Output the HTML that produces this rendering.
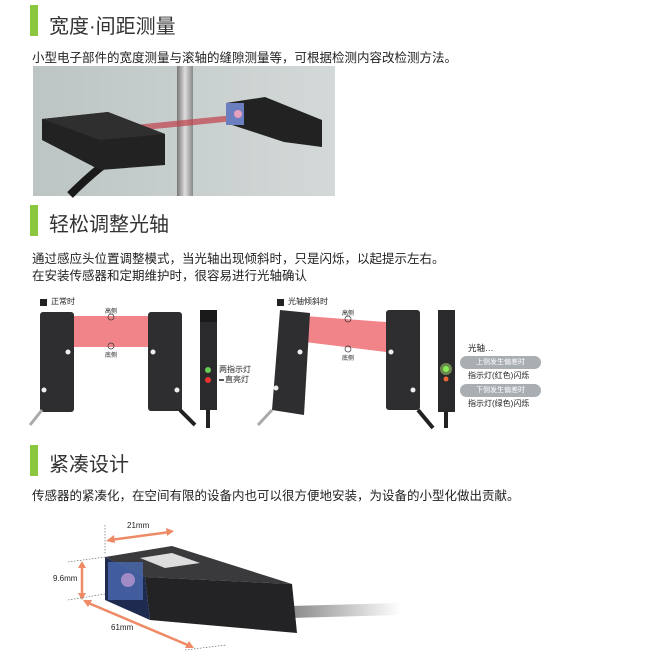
<!DOCTYPE html>
<html><head><meta charset="utf-8"><style>
body{margin:0;width:646px;height:663px;background:#fff;position:relative;overflow:hidden;font-family:"Liberation Sans","Noto Sans CJK SC",sans-serif;color:#222}
.a{position:absolute;white-space:nowrap}
.bar{position:absolute;left:30px;width:8px;height:31px;background:#8cc63f}
.h{position:absolute;left:49px;font-size:20px;color:#333}
.t{position:absolute;left:32px;font-size:12.5px;color:#222}
.s{font-size:8px}
</style></head><body>
<div class="bar" style="top:5px"></div><div class="h" style="top:10px">宽度·间距测量</div>
<div class="t" style="top:47px">小型电子部件的宽度测量与滚轴的缝隙测量等，可根据检测内容改检测方法。</div>
<svg class="a" style="left:0;top:0" width="646" height="663">
<defs><linearGradient id="bg" x1="0" x2="1"><stop offset="0" stop-color="#bcc5c4"/><stop offset="1" stop-color="#d3d9d8"/></linearGradient>
<linearGradient id="pole" x1="0" x2="1"><stop offset="0" stop-color="#777"/><stop offset=".5" stop-color="#ddd"/><stop offset="1" stop-color="#888"/></linearGradient>
<linearGradient id="cab" x1="0" x2="1"><stop offset="0" stop-color="#888"/><stop offset="1" stop-color="#fff"/></linearGradient></defs>
<rect x="33" y="66" width="302" height="130" fill="url(#bg)"/>
<rect x="177" y="66" width="16" height="130" fill="url(#pole)"/>
<polygon points="115,127 244,114 244,120 115,133" fill="#c0404a" opacity=".7"/>
<path d="M70,195 Q100,165 125,150" stroke="#1a1a1a" stroke-width="8" fill="none"/>
<polygon points="42,119 108,112 165,134 165,165 100,170 42,140" fill="#222"/>
<polygon points="42,119 108,112 165,134 100,140" fill="#2f2f2f"/>
<polygon points="226,103 265,97 322,120 322,147 284,142 226,123" fill="#222"/>
<rect x="226" y="103" width="18" height="22" fill="#6b7fc0"/>
<circle cx="238" cy="114" r="4" fill="#e8a0c0"/>
<rect x="40" y="299" width="7" height="7" fill="#222"/>
<rect x="73" y="316" width="76" height="31" fill="#f08489"/>
<rect x="40" y="312" width="34" height="100" rx="3" fill="#2e2e31"/>
<rect x="148" y="312" width="34" height="99" rx="3" fill="#2e2e31"/>
<circle cx="68" cy="352" r="2.5" fill="#eee"/><circle cx="44" cy="390" r="2.5" fill="#eee"/>
<circle cx="153" cy="352" r="2.5" fill="#eee"/><circle cx="177" cy="390" r="2.5" fill="#eee"/>
<circle cx="111" cy="317" r="3" fill="none" stroke="#333" stroke-width=".7"/><circle cx="111" cy="346" r="3" fill="none" stroke="#333" stroke-width=".7"/>
<path d="M30,425 L42,410" stroke="#aaa" stroke-width="3"/><path d="M180,410 L195,425" stroke="#222" stroke-width="4"/>
<rect x="200" y="310" width="17" height="100" fill="#2a2a2c"/><rect x="200" y="310" width="17" height="12" fill="#1a1a1a"/>
<path d="M208,410 V428" stroke="#222" stroke-width="4"/>
<circle cx="208" cy="370" r="3" fill="#6c5"/><circle cx="208" cy="380" r="3" fill="#e33"/>
<line x1="219" y1="380" x2="224" y2="380" stroke="#222" stroke-width="1.5"/>
<rect x="277" y="299" width="7" height="7" fill="#222"/>
<polygon points="305,316 386,322 386,352 305,342" fill="#f08489"/>
<polygon points="280,310 310,313 304,415 272,410" fill="#2e2e31"/>
<circle cx="300" cy="352" r="2.5" fill="#eee"/><circle cx="276" cy="388" r="2.5" fill="#eee"/>
<path d="M258,425 L272,410" stroke="#aaa" stroke-width="3"/>
<rect x="386" y="310" width="34" height="100" rx="3" fill="#2e2e31"/>
<circle cx="391" cy="352" r="2.5" fill="#eee"/><circle cx="413" cy="390" r="2.5" fill="#eee"/>
<path d="M418,410 L433,428" stroke="#222" stroke-width="4"/>
<circle cx="348" cy="319" r="3" fill="none" stroke="#333" stroke-width=".7"/><circle cx="348" cy="349" r="3" fill="none" stroke="#333" stroke-width=".7"/>
<rect x="438" y="310" width="17" height="102" fill="#2a2a2c"/><path d="M446,412 V428" stroke="#222" stroke-width="4"/>
<circle cx="446" cy="369" r="6" fill="#9c6" opacity=".6"/><circle cx="446" cy="369" r="3" fill="#8e5"/><circle cx="446" cy="379" r="2.5" fill="#e63"/>
<rect x="460" y="356" width="81" height="13" rx="6.5" fill="#a9aeb3"/>
<rect x="460" y="384" width="81" height="13" rx="6.5" fill="#a9aeb3"/>
<path d="M290,612 L400,609" stroke="url(#cab)" stroke-width="12"/>
<polygon points="105,557 172,546 292,584 145,577" fill="#3a3a3d"/>
<polygon points="145,577 292,584 297,633 150,620" fill="#232326"/>
<polygon points="105,557 145,577 150,620 105,600" fill="#1e2a50"/>
<rect x="108" y="562" width="35" height="38" fill="#4a6ab0" opacity=".8"/>
<circle cx="128" cy="580" r="7" fill="#c9a0d8" opacity=".7"/>
<polygon points="140,558 172,553 200,563 165,568" fill="#ddd"/>
<g stroke="#ee8a66" stroke-width="2.5" fill="#ee8a66">
<line x1="110" y1="540" x2="170" y2="532"/><line x1="82" y1="565" x2="82" y2="596"/><line x1="86" y1="602" x2="190" y2="646"/></g>
<polygon points="106,541 114,535 115,543" fill="#ee8a66"/><polygon points="174,531 166,528 167,536" fill="#ee8a66"/>
<polygon points="82,561 78,568 86,568" fill="#ee8a66"/><polygon points="82,600 78,593 86,593" fill="#ee8a66"/>
<polygon points="83,600 92,600 88,607" fill="#ee8a66"/><polygon points="194,648 185,648 189,641" fill="#ee8a66"/>
<g stroke="#555" stroke-width=".6" stroke-dasharray="1.5,1.5"><line x1="105" y1="525" x2="105" y2="555"/><line x1="68" y1="562" x2="105" y2="557"/><line x1="68" y1="600" x2="105" y2="594"/><line x1="185" y1="650" x2="226" y2="645"/></g>
</svg>
<div class="bar" style="top:205px"></div><div class="h" style="top:208px">轻松调整光轴</div>
<div class="t" style="top:248px">通过感应头位置调整模式，当光轴出现倾斜时，只是闪烁，以起提示左右。</div>
<div class="t" style="top:265px">在安装传感器和定期维护时，很容易进行光轴确认</div>
<div class="a" style="left:51px;top:296px;font-size:8px">正常时</div>
<div class="a s" style="left:105px;top:306px;font-size:6px">高侧</div>
<div class="a s" style="left:105px;top:350px;font-size:6px">底侧</div>
<div class="a" style="left:219px;top:364px;font-size:8px">两指示灯</div>
<div class="a" style="left:225px;top:374px;font-size:8px">直亮灯</div>
<div class="a" style="left:288px;top:296px;font-size:8px">光轴倾斜时</div>
<div class="a" style="left:342px;top:308px;font-size:6px">高侧</div>
<div class="a" style="left:342px;top:353px;font-size:6px">底侧</div>
<div class="a" style="left:468px;top:342px;font-size:8.5px">光轴…</div>
<div class="a" style="left:460px;top:357px;width:81px;text-align:center;font-size:7px;color:#fff">上侧发生偏差时</div>
<div class="a" style="left:468px;top:370px;font-size:8px">指示灯(红色)闪烁</div>
<div class="a" style="left:460px;top:385px;width:81px;text-align:center;font-size:7px;color:#fff">下侧发生偏差时</div>
<div class="a" style="left:468px;top:398px;font-size:8px">指示灯(绿色)闪烁</div>
<div class="bar" style="top:445px"></div><div class="h" style="top:448px">紧凑设计</div>
<div class="t" style="top:485px">传感器的紧凑化，在空间有限的设备内也可以很方便地安装，为设备的小型化做出贡献。</div>
<div class="a" style="left:127px;top:521px;font-size:8px">21mm</div>
<div class="a" style="left:53px;top:574px;font-size:8px">9.6mm</div>
<div class="a" style="left:111px;top:623px;font-size:8px">61mm</div>
</body></html>
